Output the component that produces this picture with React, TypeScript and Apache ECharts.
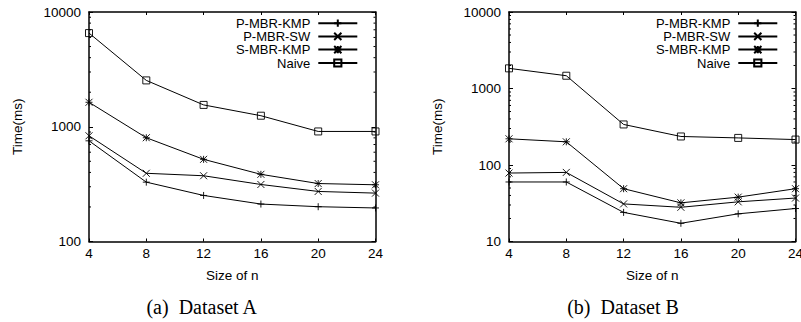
import React, { useEffect, useRef } from "react";
import * as echarts from "echarts";

// ---- data ----
const sizes = [4, 8, 12, 16, 20, 24];
const seriesNames = ["P-MBR-KMP", "P-MBR-SW", "S-MBR-KMP", "Naive"];

const aPMbrKmp = [754, 329, 252, 212, 201, 196];
const aPMbrSw = [834, 393, 374, 314, 273, 264];
const aSMbrKmp = [1634, 802, 520, 385, 320, 312];
const aNaive = [6550, 2535, 1550, 1248, 910, 910];

const bPMbrKmp = [60, 60, 24, 17.3, 23, 27];
const bPMbrSw = [78.5, 80, 31, 28, 33, 37];
const bSMbrKmp = [220, 201, 49, 32, 38, 49];
const bNaive = [1834, 1469, 339, 236, 226, 215];

const yMinA = 100;
const yMaxA = 10000;
const yMinB = 10;
const yMaxB = 10000;

const minorTicksA = [200, 300, 400, 500, 600, 700, 800, 900, 2000, 3000, 4000, 5000, 6000, 7000, 8000, 9000];
const minorTicksB = [20, 30, 40, 50, 60, 70, 80, 90, 200, 300, 400, 500, 600, 700, 800, 900, 2000, 3000, 4000, 5000, 6000, 7000, 8000, 9000];

const captionA = "(a)  Dataset A";
const captionB = "(b)  Dataset B";
const xTitle = "Size of n";
const yTitle = "Time(ms)";

const symbols = [
  "path://M4 0L4 8M0 4L8 4",
  "path://M0 0L8 8M8 0L0 8",
  "path://M4 0L4 8M0 4L8 4M0 0L8 8M8 0L0 8",
  "path://M0 0L8 0L8 8L0 8Z",
];
const symbolSizes = [7, 7, 7, 7];

const FONT = "'Liberation Sans', Arial, Helvetica, sans-serif";
const SERIF = "'Liberation Serif', 'Times New Roman', serif";
const FS = 13.5;
const LEGEND_FS = 13;

export default function App() {
  const ref = useRef<HTMLDivElement>(null);
  useEffect(() => {
    if (!ref.current) return;
    const chart = echarts.init(ref.current, undefined, { renderer: "svg" });

    const grids = [
      { left: 89, top: 12, width: 286.5, height: 229.5, outerBoundsMode: "none" },
      { left: 509, top: 12, width: 286.5, height: 229.5, outerBoundsMode: "none" },
    ];
    const axisLine = { show: true, lineStyle: { color: "#000", width: 1.5 } };
    const axisTick = { show: true, inside: true, length: 3, lineStyle: { color: "#000", width: 1 } };
    const labelStyle = { color: "#000", fontFamily: FONT, fontSize: FS };

    const xAxes: any[] = [];
    const yAxes: any[] = [];
    const ranges = [
      [yMinA, yMaxA],
      [yMinB, yMaxB],
    ];
    for (let g = 0; g < 2; g++) {
      xAxes.push({
        type: "value",
        gridIndex: g,
        position: "bottom",
        min: sizes[0],
        max: sizes[sizes.length - 1],
        interval: 4,
        axisLine,
        axisTick,
        splitLine: { show: false },
        axisLabel: { ...labelStyle, margin: 5, showMinLabel: true, showMaxLabel: true },
        name: xTitle,
        nameLocation: "middle",
        nameGap: 27,
        nameTextStyle: { ...labelStyle },
      });
      xAxes.push({
        type: "value",
        gridIndex: g,
        position: "top",
        min: sizes[0],
        max: sizes[sizes.length - 1],
        interval: 4,
        axisLine,
        axisTick,
        splitLine: { show: false },
        axisLabel: { show: false },
      });
      yAxes.push({
        type: "log",
        logBase: 10,
        gridIndex: g,
        position: "left",
        min: ranges[g][0],
        max: ranges[g][1],
        axisLine,
        axisTick: { ...axisTick, length: 4 },
        splitLine: { show: false },
        minorTick: { show: false },
        axisLabel: { ...labelStyle, margin: 8, formatter: (v: number) => String(Math.round(v)) },
        name: yTitle,
        nameLocation: "middle",
        nameGap: 65,
        nameTextStyle: { ...labelStyle },
      });
      yAxes.push({
        type: "log",
        logBase: 10,
        gridIndex: g,
        position: "right",
        min: ranges[g][0],
        max: ranges[g][1],
        axisLine,
        axisTick: { ...axisTick, length: 4 },
        splitLine: { show: false },
        axisLabel: { show: false },
      });
    }

    const dataSets = [
      [aPMbrKmp, aPMbrSw, aSMbrKmp, aNaive],
      [bPMbrKmp, bPMbrSw, bSMbrKmp, bNaive],
    ];
    const series: any[] = [];
    for (let g = 0; g < 2; g++) {
      dataSets[g].forEach((vals, i) => {
        series.push({
          type: "line",
          name: seriesNames[i],
          xAxisIndex: g * 2,
          yAxisIndex: g * 2,
          data: sizes.map((s, k) => [s, vals[k]]),
          symbol: symbols[i],
          symbolSize: symbolSizes[i],
          showSymbol: true,
          clip: false,
          lineStyle: { color: "#000", width: 1 },
          itemStyle: { color: "none", borderColor: "#000", borderWidth: 0.9 },
          emphasis: { disabled: true },
          z: 3,
        });
      });
      const minor = g === 0 ? minorTicksA : minorTicksB;
      series.push({
        type: "custom",
        xAxisIndex: g * 2,
        yAxisIndex: g * 2,
        data: minor.map((v) => [sizes[0], v]),
        encode: { x: 0, y: 1 },
        clip: false,
        silent: true,
        z: 4,
        renderItem: (params: any, api: any) => {
          const v = api.value(1);
          const pL = api.coord([sizes[0], v]);
          const pR = api.coord([sizes[sizes.length - 1], v]);
          return {
            type: "group",
            children: [
              { type: "line", shape: { x1: pL[0], y1: pL[1], x2: pL[0] + 2, y2: pL[1] }, style: { stroke: "#000", lineWidth: 1 } },
              { type: "line", shape: { x1: pR[0] - 2, y1: pR[1], x2: pR[0], y2: pR[1] }, style: { stroke: "#000", lineWidth: 1 } },
            ],
          };
        },
      });
    }

    const legendRowsY = [22.7, 35.9, 49.1, 62.5];
    const legendRights = [442.7, 22.7];
    const legends: any[] = [];
    for (let g = 0; g < 2; g++) {
      seriesNames.forEach((n, i) => {
        legends.push({
          data: [n],
          right: legendRights[g],
          top: legendRowsY[i] - 6,
          padding: 0,
          align: "right",
          orient: "horizontal",
          itemWidth: 39,
          itemHeight: 9,
          selectedMode: false,
          textStyle: { color: "#000", fontFamily: FONT, fontSize: LEGEND_FS, padding: [0, 3, 0, 0], lineHeight: 12 },
        });
      });
    }

    chart.setOption({
      animation: false,
      backgroundColor: "#fff",
      grid: grids,
      xAxis: xAxes,
      yAxis: yAxes,
      legend: legends,
      series,
      graphic: [
        {
          type: "text",
          x: 201.7,
          y: 307,
          style: { text: captionA, fontFamily: SERIF, fontSize: 20, fill: "#000", align: "center", verticalAlign: "middle" },
        },
        {
          type: "text",
          x: 623,
          y: 307,
          style: { text: captionB, fontFamily: SERIF, fontSize: 20, fill: "#000", align: "center", verticalAlign: "middle" },
        },
      ],
    });
    return () => chart.dispose();
  }, []);
  return (
    <div
      ref={ref}
      style={{ position: "absolute", left: 0, top: 0, width: 801, height: 322 }}
    />
  );
}
